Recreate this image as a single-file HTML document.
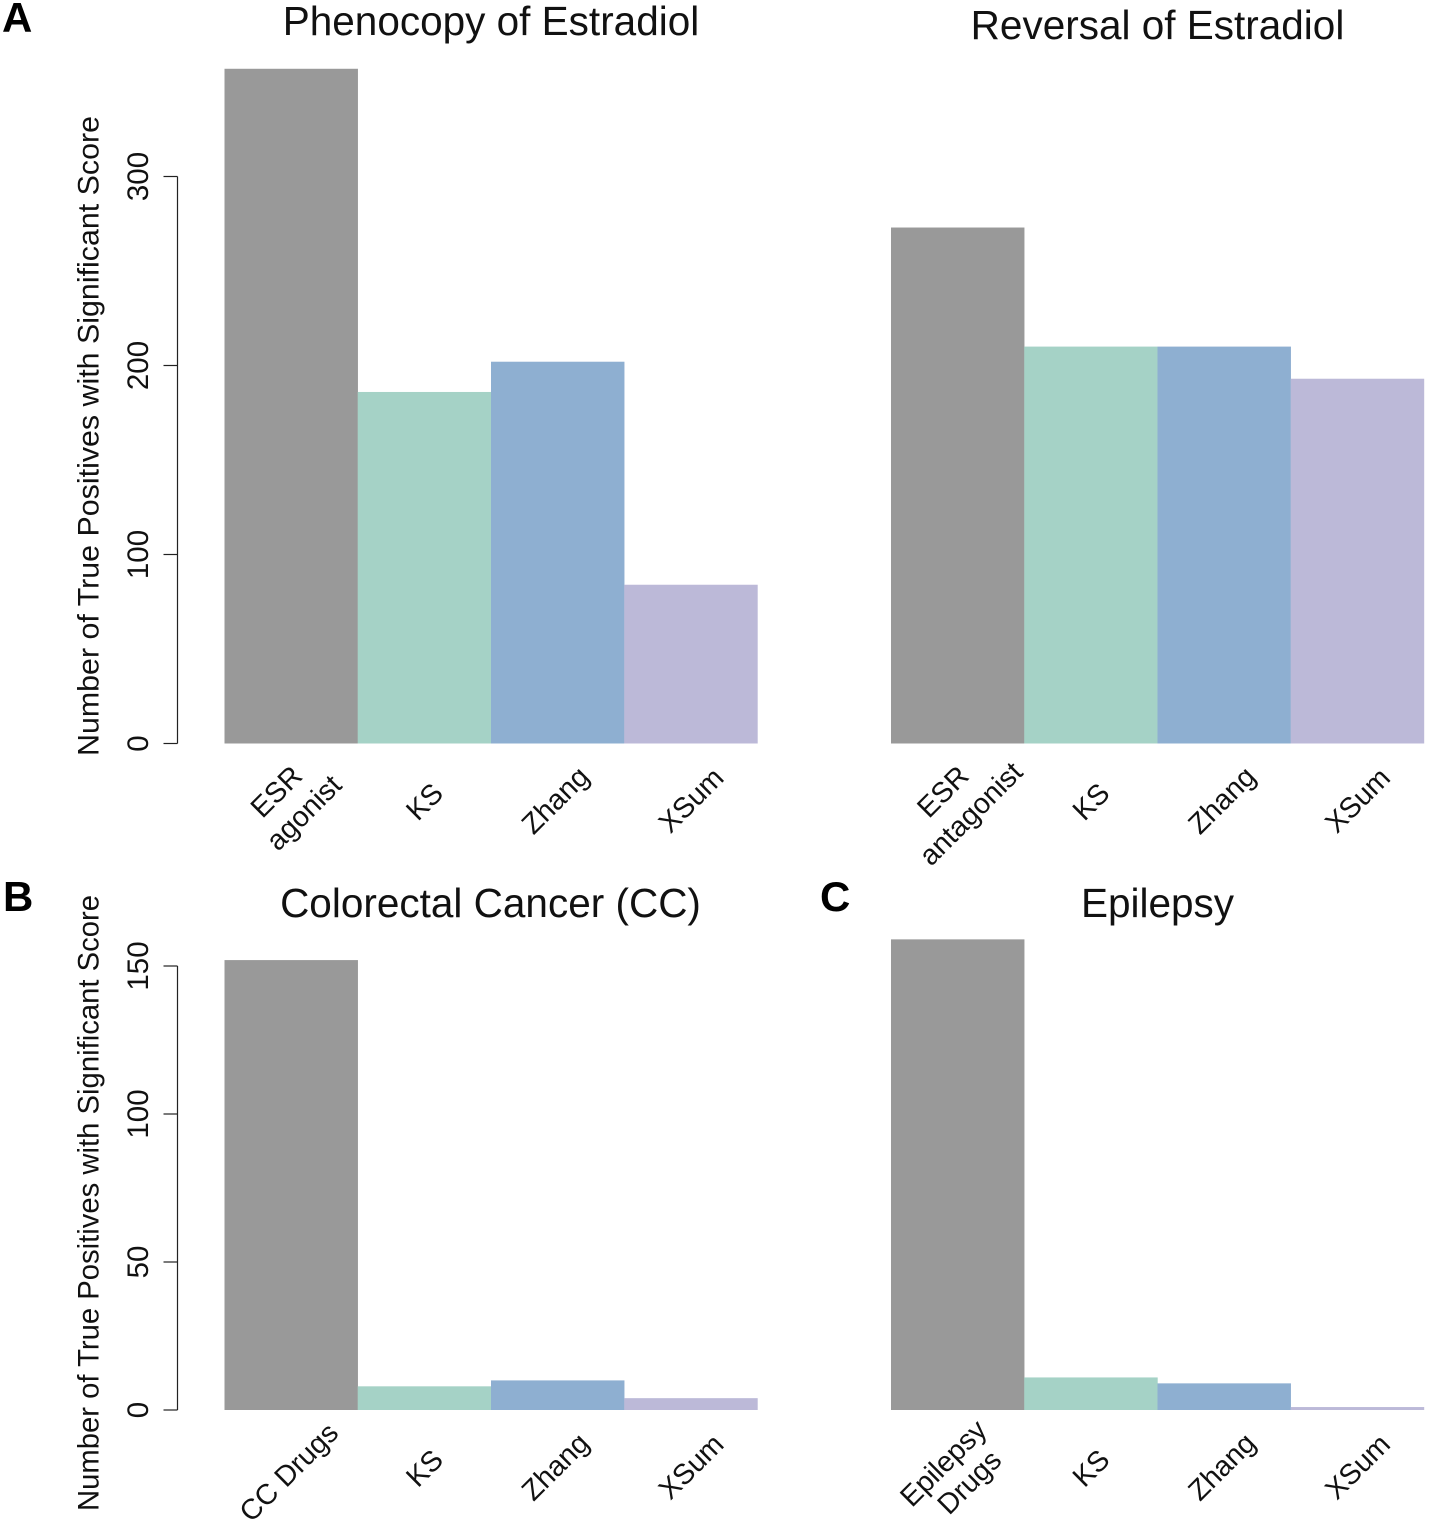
<!DOCTYPE html>
<html lang="en">
<head>
<meta charset="utf-8">
<title>True Positives with Significant Score</title>
<style>
html,body{margin:0;padding:0;background:#fff;}
svg{display:block;}
text{font-family:"Liberation Sans",Arial,sans-serif;fill:#111;}
</style>
</head>
<body>
<svg id="chart" xmlns="http://www.w3.org/2000/svg" width="1429" height="1520" viewBox="0 0 1429 1520"></svg>
<script>
var methods = ["KS", "Zhang", "XSum"];
var phenocopyValues = [357, 186, 202, 84];
var reversalValues = [273, 210, 210, 193];
var colorectalValues = [152, 8, 10, 4];
var epilepsyValues = [159, 11, 9, 1];
var estradiolTicks = [0, 100, 200, 300];
var diseaseTicks = [0, 50, 100, 150];
var barColors = ["#999999", "#a5d2c6", "#8eafd1", "#bcb9d8"];
var yAxisTitle = "Number of True Positives with Significant Score";

var NS = "http://www.w3.org/2000/svg";
var svg = document.getElementById("chart");

function make(tag, attrs, parent) {
  var el = document.createElementNS(NS, tag);
  for (var k in attrs) el.setAttribute(k, attrs[k]);
  (parent || svg).appendChild(el);
  return el;
}
function slug(s) {
  return s.toLowerCase().replace(/[^a-z0-9]+/g, "-").replace(/^-|-$/g, "");
}

function drawPanel(p) {
  var g = make("g", {});
  
  

  var yScale = function (v) { return p.y0 - v * p.pxPerUnit; };
  var barW = 133.25;
  var xScale = function (i) { return p.left + i * barW; };

  var title = make("text", {x: p.titleX, y: p.titleY, "text-anchor": "middle", "font-size": 40.5}, g);
  title.textContent = p.title;
  
  

  p.values.forEach(function (v, i) {
    var r = make("rect", {x: xScale(i), y: yScale(v), width: barW + 0.2, height: v * p.pxPerUnit, fill: barColors[i]}, g);
    
    
  });

  var labelY = p.y0 + 58;
  var drawLabel = function (text, cx, cy) {
    var t = make("text", {"text-anchor": "middle", "font-size": 28.6,
      transform: "translate(" + cx + "," + cy + ") rotate(-45)"}, g);
    t.textContent = text;
    
    
  };
  methods.forEach(function (m, i) {
    drawLabel(m, xScale(i + 1) + barW / 2 + (m === "Zhang" ? 4.5 : 7), labelY + (m === "KS" ? 7 : 5.5));
  });
  p.first.forEach(function (line, i) {
    var off = p.firstOffsets[i];
    drawLabel(line, xScale(0) + barW / 2 + off[0], labelY + off[1]);
  });

  if (p.ticks) {
    var axisX = 177.5;
    var top = yScale(p.ticks[p.ticks.length - 1]);
    var axis = make("line", {x1: axisX, x2: axisX, y1: top, y2: p.y0, stroke: "#222", "stroke-width": 1.2}, g);
    
    
    p.ticks.forEach(function (tv) {
      var y = yScale(tv);
      var tick = make("line", {x1: axisX - 14, x2: axisX, y1: y, y2: y, stroke: "#222", "stroke-width": 1.2}, g);
      
      
      var lab = make("text", {"text-anchor": "middle", "font-size": 29.5,
        transform: "translate(148," + y + ") rotate(-90)"}, g);
      lab.textContent = tv;
      
      
    });
    var yt = make("text", {"text-anchor": "middle", "font-size": 29.5, textLength: p.yTitleLen,
      lengthAdjust: "spacingAndGlyphs",
      transform: "translate(98.5," + p.yTitleY + ") rotate(-90)"}, g);
    yt.textContent = yAxisTitle;
    
    
  }
}

drawPanel({name: "panel-phenocopy-of-estradiol", title: "Phenocopy of Estradiol", titleX: 491, titleY: 35,
  values: phenocopyValues, left: 224.5, y0: 743.5, pxPerUnit: 1.89, ticks: estradiolTicks,
  first: ["ESR", "agonist"], firstOffsets: [[-8, -3], [19.5, 18]], yTitleY: 436, yTitleLen: 640});
drawPanel({name: "panel-reversal-of-estradiol", title: "Reversal of Estradiol", titleX: 1157.5, titleY: 39,
  values: reversalValues, left: 891, y0: 743.5, pxPerUnit: 1.89, ticks: null,
  first: ["ESR", "antagonist"], firstOffsets: [[-8, -3], [20, 19]]});
drawPanel({name: "panel-colorectal-cancer", title: "Colorectal Cancer (CC)", titleX: 490.5, titleY: 917,
  values: colorectalValues, left: 224.5, y0: 1410, pxPerUnit: 2.96, ticks: diseaseTicks,
  first: ["CC Drugs"], firstOffsets: [[4.5, 11]], yTitleY: 1203, yTitleLen: 616});
drawPanel({name: "panel-epilepsy", title: "Epilepsy", titleX: 1157.5, titleY: 917,
  values: epilepsyValues, left: 891, y0: 1410, pxPerUnit: 2.96, ticks: null,
  first: ["Epilepsy", "Drugs"], firstOffsets: [[-7.5, 2], [18.5, 21]]});

[["A", 2, 32], ["B", 3, 911], ["C", 820, 911]].forEach(function (d) {
  var t = make("text", {x: d[1], y: d[2], "font-size": 42, "font-weight": "bold"});
  t.textContent = d[0];
  t.style.fill = "#000";
  
  
});
</script>
</body>
</html>
